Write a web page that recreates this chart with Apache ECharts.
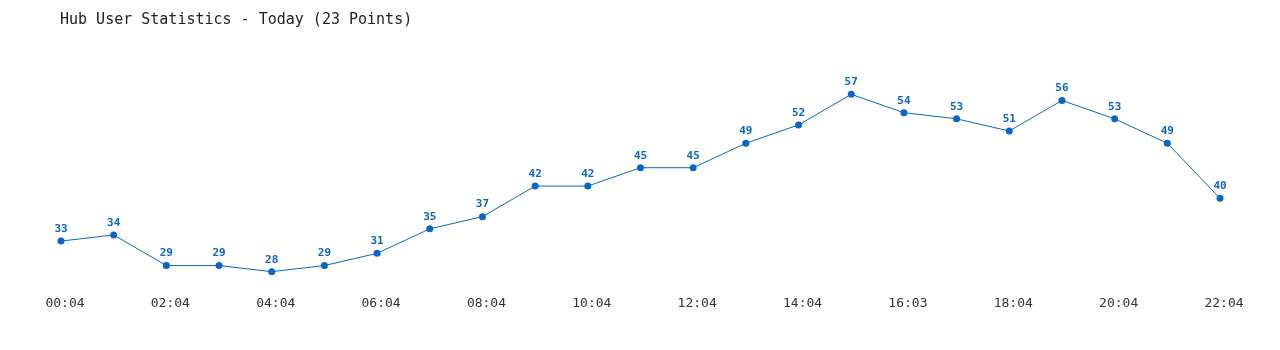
<!DOCTYPE html>
<html><head><meta charset="utf-8">
<script src="https://cdn.jsdelivr.net/npm/echarts@6/dist/echarts.min.js"></script>
<style>html,body{margin:0;padding:0;background:#fff}#c{width:1280px;height:350px}</style>
</head><body><div id="c"></div>
<script>
const categories = ["00:04","01:04","02:04","03:04","04:04","05:04","06:04","07:04","08:04","09:04","10:04","11:04","12:04","13:04","14:04","15:04","16:03","17:04","18:04","19:04","20:04","21:04","22:04"];
const users = [33,34,29,29,28,29,31,35,37,42,42,45,45,49,52,57,54,53,51,56,53,49,40];
const titleText = "Hub User Statistics - Today (23 Points)";
const font = "'DejaVu Sans Mono', 'Liberation Mono', monospace";
const chart = echarts.init(document.getElementById('c'));
chart.setOption({
  animation: false,
  title: { text: titleText, left: 55, top: 8, textStyle: { fontFamily: font, fontSize: 15, fontWeight: 'normal', color: '#222' } },
  grid: { left: 61, right: 60, top: 76, bottom: 60 },
  xAxis: {
    type: 'category', data: categories, boundaryGap: false,
    axisLine: { show: false }, axisTick: { show: false }, splitLine: { show: false },
    axisLabel: { interval: 1, margin: 7, padding: [0, 0, 0, 8], fontFamily: font, fontSize: 13, color: '#333' }
  },
  yAxis: { type: 'value', min: 25, max: 60, show: false, splitLine: { show: false } },
  series: [{
    type: 'line', data: users, symbol: 'circle', symbolSize: 7,
    lineStyle: { color: '#0a66cc', width: 1 }, itemStyle: { color: '#0a66cc' },
    label: { show: true, position: 'top', distance: 3, fontFamily: font, fontSize: 11, fontWeight: 'bold', color: '#0a66cc' }
  }]
});
</script></body></html>
